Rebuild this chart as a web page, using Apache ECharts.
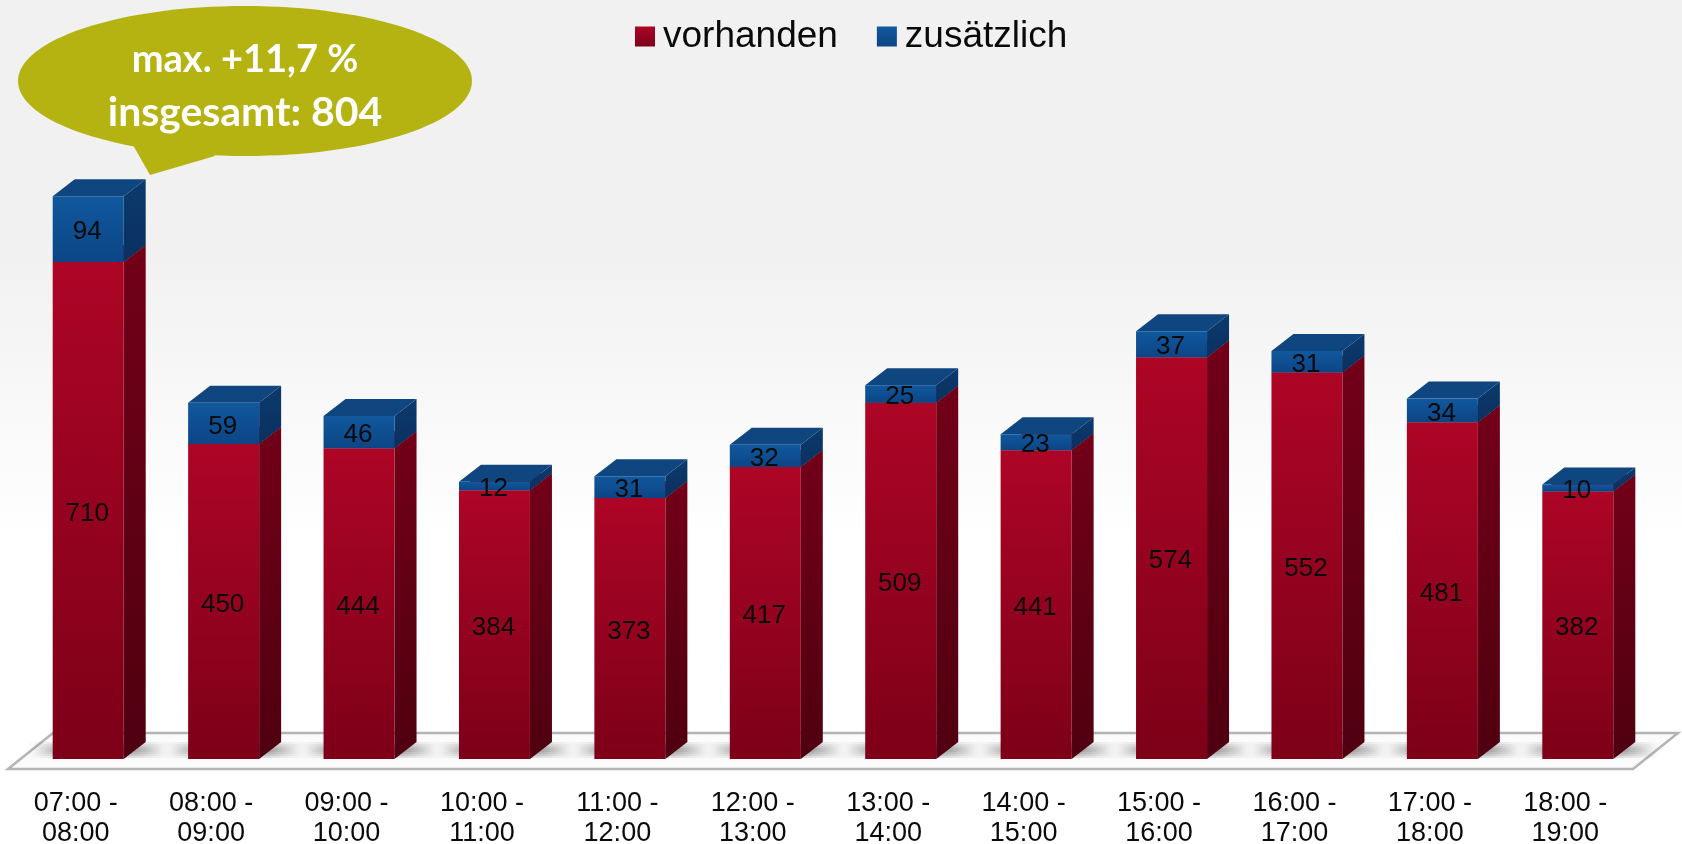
<!DOCTYPE html>
<html>
<head>
<meta charset="utf-8">
<style>html,body{margin:0;padding:0;background:#fff}#c{width:1682px;height:844px}</style>
<script src="https://cdn.jsdelivr.net/npm/echarts@6/dist/echarts.min.js"></script>
</head>
<body>
<div id="c"></div>
<script>
const categories = ['07:00 -\n08:00','08:00 -\n09:00','09:00 -\n10:00','10:00 -\n11:00','11:00 -\n12:00','12:00 -\n13:00','13:00 -\n14:00','14:00 -\n15:00','15:00 -\n16:00','16:00 -\n17:00','17:00 -\n18:00','18:00 -\n19:00'];
const vorhanden = [710,450,444,384,373,417,509,441,574,552,481,382];
const zusaetzlich = [94,59,46,12,31,32,25,23,37,31,34,10];

const BAR_W = 71, DX = 22, DY = 17, OFF_X = 12.5, OFF_Y = 10, FLOOR_DX = 45, FLOOR_DY = 36;
const grad = (a, b) => ({type:'linear',x:0,y:0,x2:0,y2:1,colorStops:[{offset:0,color:a},{offset:1,color:b}]});
const softShadow = {type:'linear',x:0,y:0,x2:1,y2:0,colorStops:[
  {offset:0,color:'rgba(80,80,80,0)'},{offset:.3,color:'rgba(80,80,80,.2)'},
  {offset:.7,color:'rgba(80,80,80,.2)'},{offset:1,color:'rgba(80,80,80,0)'}]};

function barRenderer(front, side, top, withShadow) {
  return function (params, api) {
    const i = api.value(0);
    const p0 = api.coord([i, api.value(1)]);
    const p1 = api.coord([i, api.value(2)]);
    const x0 = p0[0] + OFF_X - BAR_W / 2, x1 = x0 + BAR_W;
    const yb = p0[1] - OFF_Y, yt = p1[1] - OFF_Y;
    const children = [];
    if (withShadow) {
      [[16,0],[12,4],[8,8],[4,12]].forEach(function (s) {
        children.push({type:'rect',shape:{x:x0 - 26 + s[1],y:yb - 9 - s[0]/2,width:BAR_W + 26 + DX + 26 - 2*s[1],height:s[0]},
          style:{fill:softShadow}});
      });
    }
    children.push(
      {type:'polygon',shape:{points:[[x1,yb],[x1+DX,yb-DY],[x1+DX,yt-DY],[x1,yt]]},style:{fill:side}},
      {type:'polygon',shape:{points:[[x0,yt],[x1,yt],[x1+DX,yt-DY],[x0+DX,yt-DY]]},style:{fill:top}},
      {type:'rect',shape:{x:x0,y:yt,width:BAR_W,height:yb-yt},style:{fill:front}},
      {type:'text',z2:10,style:{text:String(api.value(3)),x:x0+BAR_W/2-1,y:(yb+yt)/2+3,align:'center',verticalAlign:'middle',
        font:'26px "Liberation Sans", Arial, sans-serif',fill:'#0a0a0a'}}
    );
    return {type:'group',children};
  };
}

const redData = vorhanden.map((v,i)=>[i,0,v,v]);
const blueData = zusaetzlich.map((v,i)=>[i,vorhanden[i],vorhanden[i]+v,v]);
const redFront = grad('#ad0526','#7d0018');
const blueFront = grad('#10589e','#0c4585');

const chart = echarts.init(document.getElementById('c'), null, {renderer:'canvas',width:1682,height:844});
chart.setOption({
  animation:false,
  backgroundColor:{type:'linear',x:0,y:0,x2:0,y2:1,colorStops:[{offset:0,color:'#f1f1f1'},{offset:.3,color:'#f1f1f1'},{offset:.64,color:'#ffffff'},{offset:1,color:'#ffffff'}]},
  legend:{
    left:635,top:18,padding:0,itemWidth:20,itemHeight:20,itemGap:39,selectedMode:false,
    textStyle:{fontFamily:'"Liberation Sans", Arial, sans-serif',fontSize:37,color:'#0a0a0a',padding:[0,0,0,3]},
    data:[
      {name:'vorhanden',icon:'rect',itemStyle:{color:grad('#ad0526','#7d0018')}},
      {name:'zusätzlich',icon:'rect',itemStyle:{color:grad('#10589e','#0c4585')}}
    ]
  },
  grid:{left:8,right:49,top:69,bottom:75,outerBoundsMode:'none'},
  xAxis:{type:'category',data:categories,axisLine:{show:false},axisTick:{show:false},
    axisLabel:{interval:0,margin:20,fontFamily:'"Liberation Sans", Arial, sans-serif',fontSize:27,lineHeight:30,color:'#0a0a0a'}},
  yAxis:{type:'value',min:0,max:1000,show:false},
  series:[
    {type:'custom',name:'Boden',silent:true,z:1,data:[[0]],renderItem:function(params){
      const c = params.coordSys, b = c.y + c.height, l = c.x, r = c.x + c.width;
      return {type:'polygon',shape:{points:[[l,b],[r,b],[r+FLOOR_DX,b-FLOOR_DY],[l+FLOOR_DX,b-FLOOR_DY]]},
        style:{fill:'#fbfbfb',stroke:'#b4b4b4',lineWidth:2.5,lineJoin:'miter'}};
    }},
    {type:'custom',name:'vorhanden',z:2,encode:{x:0,y:[1,2]},data:redData,itemStyle:{color:'#a00322'},
      renderItem:barRenderer(redFront,grad('#720018','#4f0010'),'#7a0018',true)},
    {type:'custom',name:'zusätzlich',z:3,encode:{x:0,y:[1,2]},data:blueData,itemStyle:{color:'#10589e'},
      renderItem:barRenderer(blueFront,grad('#0c3a6c','#0a3060'),'#0f4680',false)}
  ],
  graphic:[
    {type:'ellipse',z:20,shape:{cx:245,cy:81,rx:227,ry:75},style:{fill:'#b5b312'}},
    {type:'polygon',z:20,shape:{points:[[133,145],[150,175],[215,156],[200,140]]},style:{fill:'#b5b312'}},
    {type:'text',z:21,style:{text:'max. +11,7 %',x:245,y:60,align:'center',verticalAlign:'middle',font:'bold 38px Lato, sans-serif',fill:'#fff'}},
    {type:'text',z:21,style:{text:'insgesamt: 804',x:245,y:113,align:'center',verticalAlign:'middle',font:'bold 41px Lato, sans-serif',fill:'#fff'}}
  ]
});
</script>
</body>
</html>
